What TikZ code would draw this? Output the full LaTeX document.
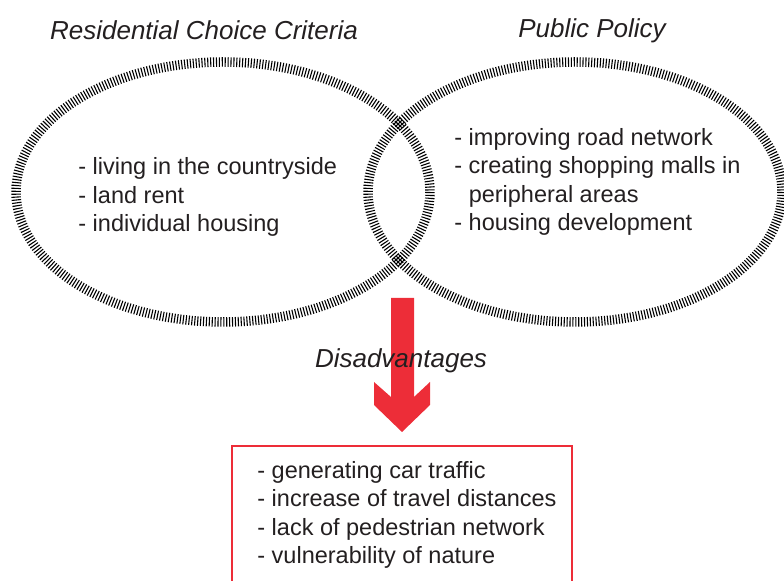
\documentclass[tikz,border=0pt]{standalone}
\usepackage{fontspec}
\setmainfont{Liberation Sans}
\usetikzlibrary{calc}
\definecolor{txtgray}{RGB}{35,31,32}
\definecolor{arrowred}{RGB}{237,45,56}

\begin{document}
\begin{tikzpicture}[x=0.5pt,y=-0.5pt,
    hatch/.style={draw=black,line width=4.75pt,dash pattern=on 0.55pt off 0.9pt},
    title/.style={font=\fontsize{13}{15.6}\selectfont\itshape,text=txtgray,inner sep=0pt,anchor=base},
    list/.style={font=\fontsize{11.75}{14.25}\selectfont,text=txtgray,align=left,inner sep=0pt,anchor=base west}]
      \clip (0,0) rectangle (784,581);

      %两个椭圆
        \draw[hatch] (223,192) ellipse [x radius=207,y radius=130];
        \draw[hatch] (575,192) ellipse [x radius=207,y radius=130];

      %标题
        \node[title] (crittitle) at (204,40) {Residential Choice Criteria};
        \node[title] (poltitle) at (592,38) {Public Policy};

      %椭圆内文字(基线为最后一行)
        \node[list] (crit) at (78,232) {- living in the countryside\\- land rent\\- individual housing};
        \node[list] (pol) at (454,231) {- improving road network\\- creating shopping malls in\\\hphantom{- }peripheral areas\\- housing development};

      %结果框
        \node[draw=arrowred,line width=1pt,minimum width=170pt,minimum height=100pt,anchor=north west,inner sep=0pt] (frame) at (231,445) {};
        \node[list] (effects) at ($(frame.north west)+(26,119)$) {- generating car traffic\\- increase of travel distances\\- lack of pedestrian network\\- vulnerability of nature};

      %箭头
        \coordinate (tip) at ($(frame.north)+(0,-13)$);
        \fill[arrowred] (tip) -- ++(28,-27) -- ++(0,-23) -- ++(-16,15) -- ++(0,-99) -- ++(-23,0) -- ++(0,99) -- ++(-17,-15) -- ++(0,23) -- cycle;
        \node[title] (dis) at (401,368) {Disadvantages};
      \end{tikzpicture}
\end{document}
